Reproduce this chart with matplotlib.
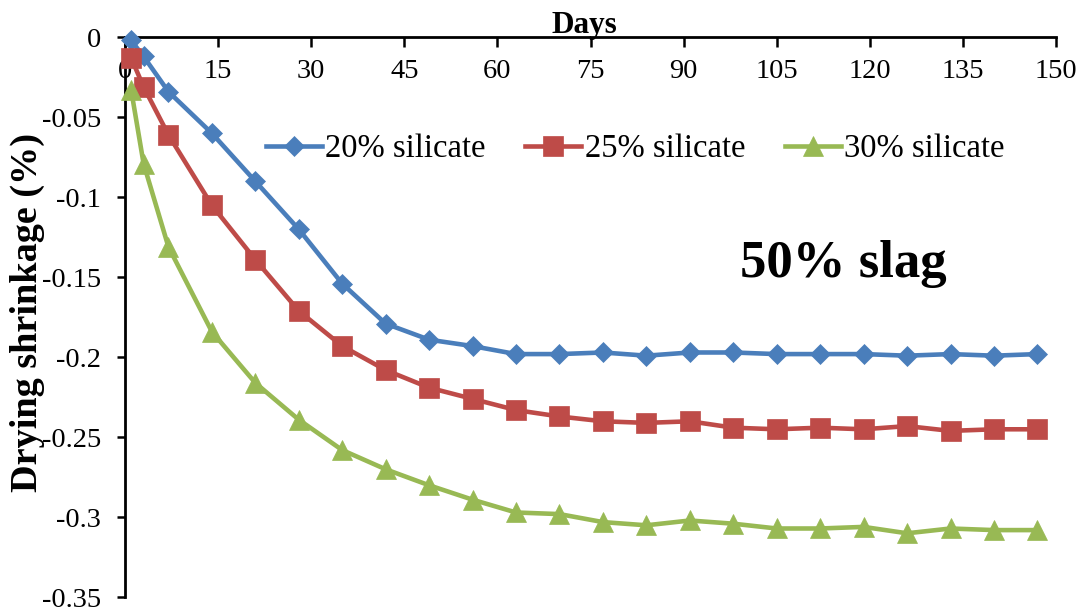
import matplotlib
matplotlib.use("Agg")
import matplotlib.pyplot as plt
from matplotlib.ticker import FuncFormatter

# Drying age (days) at which each specimen was measured
days = [1, 3, 7, 14, 21, 28, 35, 42, 49, 56, 63, 70, 77, 84, 91,
        98, 105, 112, 119, 126, 133, 140, 147]

# Drying shrinkage (%) for each sodium silicate dosage
silicate_20 = [-0.002, -0.012, -0.034, -0.060, -0.090, -0.120, -0.154, -0.179,
               -0.189, -0.193, -0.198, -0.198, -0.197, -0.199, -0.197,
               -0.197, -0.198, -0.198, -0.198, -0.199, -0.198, -0.199, -0.198]
silicate_25 = [-0.013, -0.031, -0.061, -0.105, -0.139, -0.171, -0.193, -0.208,
               -0.219, -0.226, -0.233, -0.237, -0.240, -0.241, -0.240,
               -0.244, -0.245, -0.244, -0.245, -0.243, -0.246, -0.245, -0.245]
silicate_30 = [-0.033, -0.079, -0.131, -0.184, -0.216, -0.239, -0.258, -0.270,
               -0.280, -0.289, -0.297, -0.298, -0.303, -0.305, -0.302,
               -0.304, -0.307, -0.307, -0.306, -0.310, -0.307, -0.308, -0.308]

series_labels = ["20% silicate", "25% silicate", "30% silicate"]
x_ticks = list(range(0, 151, 15))
y_ticks = [0, -0.05, -0.1, -0.15, -0.2, -0.25, -0.3, -0.35]

plt.rcParams["font.family"] = ["Liberation Serif", "DejaVu Serif"]

fig = plt.figure(figsize=(10.83, 6.14), dpi=100)
ax = fig.add_axes([0.1154, 0.0272, 0.8597, 0.9121])

styles = [
    dict(color="#4A7EBB", marker="D", markersize=10.5),
    dict(color="#BE4B48", marker="s", markersize=14),
    dict(color="#98B954", marker="^", markersize=15),
]
for ys, lab, st in zip([silicate_20, silicate_25, silicate_30], series_labels, styles):
    ax.plot(days, ys, label=lab, linewidth=3.3, color=st["color"],
            marker=st["marker"], markersize=st["markersize"],
            markerfacecolor=st["color"], markeredgecolor=st["color"],
            markeredgewidth=0.5, clip_on=False, zorder=3)

ax.set_xlim(0, 150)
ax.set_ylim(-0.35, 0)

# x axis drawn along y = 0 at the top of the plot
ax.spines["bottom"].set_position(("data", 0))
ax.spines["top"].set_visible(False)
ax.spines["right"].set_visible(False)
for s in ("bottom", "left"):
    ax.spines[s].set_linewidth(2.0)
    ax.spines[s].set_zorder(2)

ax.set_xticks(x_ticks)
ax.set_yticks(y_ticks)
ax.yaxis.set_major_formatter(FuncFormatter(lambda v, p: "0" if v == 0 else ("%g" % v)))
ax.tick_params(axis="x", direction="out", length=7, width=1.8, pad=9, labelsize=20.5)
ax.tick_params(axis="y", direction="out", length=6, width=1.8, pad=11, labelsize=20.5)

ax.xaxis.set_label_position("top")
ax.set_xlabel("Days", fontsize=22.5, fontweight="bold")
ax.xaxis.set_label_coords(0.493, 1.008)
ax.set_ylabel("Drying shrinkage (%)", fontsize=27.5, fontweight="bold")
ax.yaxis.set_label_coords(-0.086, 0.509)

ax.text(0.661, 0.596, "50% slag", transform=ax.transAxes, fontsize=38,
        fontweight="bold", ha="left", va="center")

ax.legend(loc="center", bbox_to_anchor=(0.548, 0.8005), ncol=3, frameon=False,
          fontsize=23.5, handlelength=1.72, handletextpad=0.1, columnspacing=1.22,
          borderaxespad=0)

fig.savefig("out.png", dpi=100)
